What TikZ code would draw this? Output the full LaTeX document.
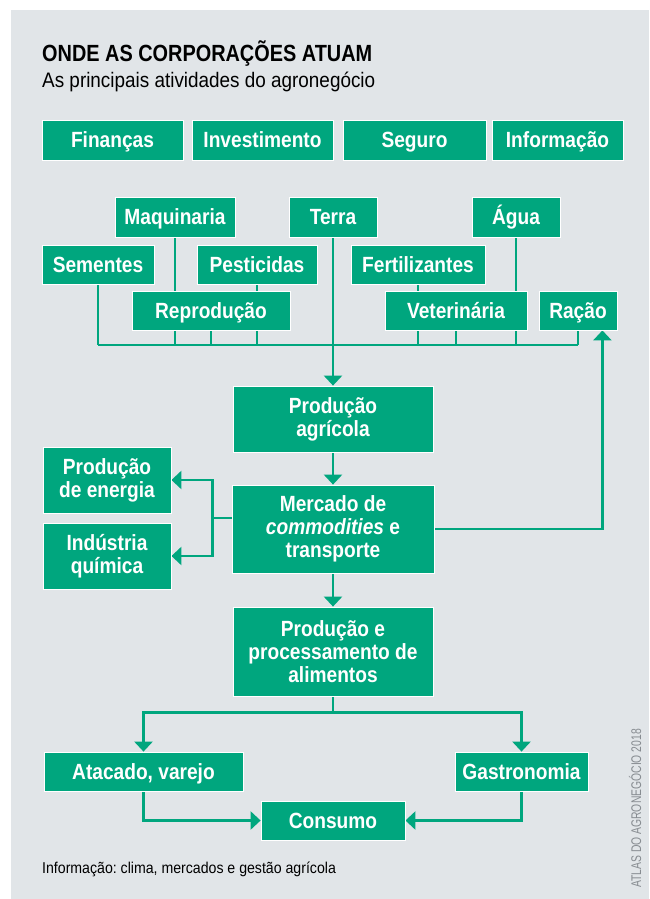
\documentclass[tikz,border=0pt]{standalone}
\usepackage{fontspec}
\setmainfont{Liberation Sans}
\newfontfamily\condfont[FakeStretch=0.87]{Liberation Sans}
\newfontfamily\titlefont[FakeStretch=0.85]{Liberation Sans}
\newfontfamily\regfont[FakeStretch=0.9]{Liberation Sans}
\newfontfamily\creditfont[FakeStretch=0.74]{Liberation Sans}
\usetikzlibrary{arrows.meta, backgrounds}
\definecolor{agrogreen}{RGB}{0,166,126}
\definecolor{panelgray}{RGB}{225,229,232}
\definecolor{creditgray}{RGB}{135,140,145}
\pgfdeclarelayer{panel}
\pgfsetlayers{panel,background,main}
\frenchspacing

\begin{document}
\begin{tikzpicture}[x=1pt, y=-1pt,
  basic/.style = {draw=white, line width=0.8pt, fill=agrogreen, text=white, inner sep=0pt,
                  font=\condfont\bfseries\fontsize{22}{23}\selectfont},
  row/.style   = {basic, minimum height=40pt, text height=15.5pt, text depth=0pt},
  stage/.style = {basic, align=center, minimum width=200pt},
  link/.style  = {agrogreen, line width=2.4pt},
  >={Triangle[width=18pt,length=10pt]}]

% panel and margins
\useasboundingbox (0,0) rectangle (649,899);
\begin{pgfonlayer}{panel}
\fill[white] (0,0) rectangle (649,899);
\fill[panelgray] (11,10) rectangle (649,899);
\end{pgfonlayer}

% heading
\node[anchor=base west, inner sep=0pt, font=\titlefont\bfseries\fontsize{23.4}{26}\selectfont] (title) at (42,62) {ONDE AS CORPORAÇÕES ATUAM};
\node[anchor=base west, inner sep=0pt, font=\regfont\fontsize{21}{24}\selectfont] (subtitle) at (42,88) {As principais atividades do agronegócio};

% services on top
\node[row, minimum width=141pt] (fin)  at (112.5,140) {Finanças};
\node[row, minimum width=141pt] (inv)  at (262.5,140) {Investimento};
\node[row, minimum width=143pt] (seg)  at (414.5,140) {Seguro};
\node[row, minimum width=131pt] (info) at (557.5,140) {Informação};

% inputs
\node[row, minimum width=120pt] (maq)   at (175,217) {Maquinaria};
\node[row, minimum width=88pt]  (terra) at (333,217) {Terra};
\node[row, minimum width=88pt]  (agua)  at (516,217) {Água};
\node[row, minimum width=112pt, minimum height=39pt] (sem)  at (98,264.5)  {Sementes};
\node[row, minimum width=120pt, minimum height=39pt] (pest) at (257,264.5) {Pesticidas};
\node[row, minimum width=134pt, minimum height=39pt] (fert) at (418,264.5) {Fertilizantes};
\node[row, minimum width=158pt, minimum height=39pt] (repro) at (211,310.5) {Reprodução};
\node[row, minimum width=142pt, minimum height=39pt] (vet)   at (456,310.5) {Veterinária};
\node[row, minimum width=78pt,  minimum height=39pt] (racao) at (578,310.5) {Ração};

% chain in the middle
\node[stage, minimum height=66pt] (agric) at (333,419) {Produção\\agrícola};
\node[stage, minimum height=88pt, minimum width=202pt] (merc) at (333,529) {Mercado de\\\textit{commodities} e\\transporte};
\node[stage, minimum height=89pt] (proc) at (333,651.5) {Produção e\\processamento de\\alimentos};
\node[stage, minimum height=66pt, minimum width=128pt] (energia) at (107,480) {Produção\\de energia};
\node[stage, minimum height=66pt, minimum width=128pt] (quim)    at (107,556) {Indústria\\química};

% outlets
\node[row, minimum width=199pt, minimum height=39pt] (atac)   at (143.5,771.5) {Atacado, varejo};
\node[row, minimum width=133pt, minimum height=39pt] (gastro) at (521.5,771.5) {Gastronomia};
\node[row, minimum width=144pt, minimum height=39pt] (cons)   at (333,820.5)   {Consumo};

% notes
\node[anchor=base west, inner sep=0pt, font=\regfont\fontsize{15.7}{18}\selectfont] (source) at (42,873) {Informação: clima, mercados e gestão agrícola};
\node[rotate=90, anchor=base west, inner sep=0pt, text=creditgray, font=\creditfont\fontsize{14}{16}\selectfont] (credit) at (641,888) {ATLAS DO AGRONEGÓCIO 2018};

%------------------------------------------ connectors, behind the boxes ------------------------------------------
\begin{scope}[on background layer]
\coordinate (bus) at (0,345);
\foreach \n in {sem, maq, repro, pest, fert, vet, agua, racao}
  \draw[link] (\n.south) -- (\n.south |- bus);
\draw[link] (sem.south |- bus) -- (racao.south |- bus);
\draw[link,->] (terra.south) -- (agric.north);

\draw[link,->] (agric.south) -- (merc.north);
\draw[link,->] (merc.south) -- (proc.north);
\draw[link,->] (merc.east) -| ([xshift=-15pt]racao.south east);

\coordinate (mleft) at ([yshift=11pt,xshift=-19pt]merc.west);
\draw[link] ([yshift=11pt]merc.west) -- (mleft);
\foreach \t in {energia, quim}
  \draw[link,->] (mleft) |- (\t.east);

\draw[link] (proc.south) -- ++(0,16) coordinate (fork);
\foreach \t in {atac, gastro}
  \draw[link,->] (fork) -| (\t.north);

\draw[link,->] (atac.south) |- (cons.west);
\draw[link,->] (gastro.south) |- (cons.east);
\end{scope}

\end{tikzpicture}
\end{document}
